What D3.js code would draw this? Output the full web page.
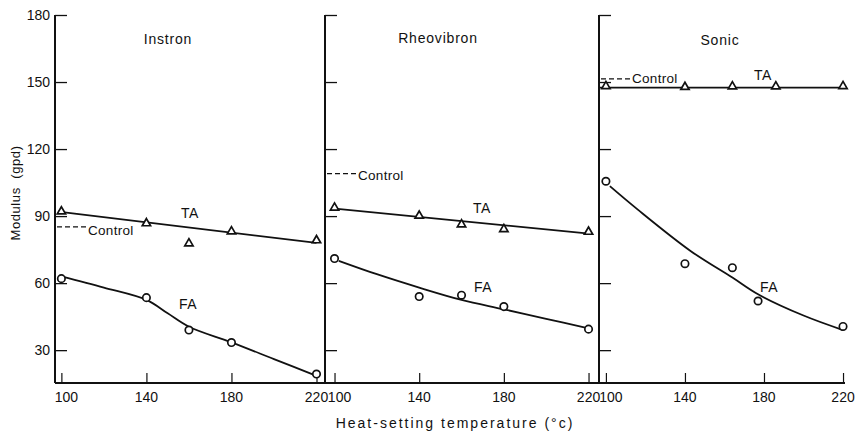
<!DOCTYPE html>
<html><head><meta charset="utf-8">
<script src="https://cdn.jsdelivr.net/npm/d3@7"></script>
<style>
html,body{margin:0;padding:0;background:#fff;}
svg{display:block;font-family:"Liberation Sans","DejaVu Sans",sans-serif;}
</style></head>
<body><svg id="chart" width="858" height="434"></svg>
<script>
// ---------- data ----------
const panelNames = ["Instron", "Rheovibron", "Sonic"];
const xTickValues = [100, 140, 180, 220];
const yTickValues = [30, 60, 90, 120, 150, 180];
const controlValues = [85.2, 109, 151.4];

// Instron
const instronTAx = [100, 140, 160, 180, 220];
const instronTA  = [91.6, 86.3, 77.3, 82.7, 78.7];
const instronFAx = [100, 140, 160, 180, 220];
const instronFA  = [62, 53.5, 39, 33.4, 19.3];
const instronTAfitX = [98.5, 220];
const instronTAfit  = [92, 78];
const instronFAfitX = [100, 120, 140, 150, 160, 180, 200, 220];
const instronFAfit  = [63, 58, 52.5, 46.5, 40.5, 33.5, 26, 18.5];

// Rheovibron
const rheoTAx = [100, 140, 160, 180, 220];
const rheoTA  = [93.3, 89.7, 85.8, 83.7, 82.5];
const rheoFAx = [100, 140, 160, 180, 220];
const rheoFA  = [71, 54, 54.6, 49.5, 39.4];
const rheoTAfitX = [99, 221.5];
const rheoTAfit  = [93.5, 82];
const rheoFAfitX = [102, 120, 140, 160, 180, 200, 220];
const rheoFAfit  = [70, 64, 58, 52.5, 48.3, 44, 39.8];

// Sonic
const sonicTAx = [100, 140, 164, 186, 220];
const sonicTA  = [147.7, 147.3, 147.6, 147.6, 147.7];
const sonicFAx = [100, 140, 164, 177, 220];
const sonicFA  = [105.6, 68.7, 66.9, 52, 40.6];
const sonicTAfitX = [97, 221];
const sonicTAfit  = [147.5, 147.5];
const sonicFAfitX = [102, 116, 143, 164, 177, 200, 220];
const sonicFAfit  = [103.4, 93, 74.3, 62.5, 55, 45.5, 39];

// ---------- layout ----------
const layout = [
  {px:[55,325], dom:[97,224],  title:[168,44], ta:[190,218], fa:[188,309], ctrlDy:8},
  {px:[325,597],dom:[95.5,224],title:[438,43], ta:[482,213], fa:[483,292], ctrlDy:6},
  {px:[599,845],dom:[96.5,221],title:[720,45], ta:[763,80],  fa:[769,292], ctrlDy:4}
];
const series = [
  {taX:instronTAx, ta:instronTA, faX:instronFAx, fa:instronFA, taFx:instronTAfitX, taF:instronTAfit, faFx:instronFAfitX, faF:instronFAfit},
  {taX:rheoTAx, ta:rheoTA, faX:rheoFAx, fa:rheoFA, taFx:rheoTAfitX, taF:rheoTAfit, faFx:rheoFAfitX, faF:rheoFAfit},
  {taX:sonicTAx, ta:sonicTA, faX:sonicFAx, fa:sonicFA, taFx:sonicTAfitX, taF:sonicTAfit, faFx:sonicFAfitX, faF:sonicFAfit}
];

const svg = d3.select("#chart");
const yBottom = 383, yTop = 15;
const y = d3.scaleLinear().domain([15.3, 180]).range([yBottom, yTop]);
const ink = "#111";
const fs = 14;

// bottom baseline across all panels
svg.append("line").attr("x1", layout[0].px[0]).attr("x2", layout[2].px[1])
  .attr("y1", yBottom).attr("y2", yBottom).attr("stroke", ink).attr("stroke-width", 2);

const tri = d3.symbol().type(d3.symbolTriangle).size(30);

panelNames.forEach((name, i) => {
  const L = layout[i], S = series[i];
  const x = d3.scaleLinear().domain(L.dom).range(L.px);
  const g = svg.append("g");

  // y axis with inward ticks
  const yAxis = d3.axisRight(y).tickValues(yTickValues).tickSize(12).tickFormat("");
  const ya = g.append("g").attr("transform", `translate(${L.px[0]},0)`).call(yAxis);
  ya.select(".domain").attr("d", `M0,${yTop}V${yBottom}`).attr("stroke", ink).attr("stroke-width", 2);
  ya.selectAll(".tick line").attr("stroke", ink).attr("stroke-width", 1.3);

  if (i === 0) {
    g.selectAll(".ylab").data(yTickValues).join("text")
      .attr("x", L.px[0] - 5).attr("y", d => y(d)).attr("dy", "0.36em")
      .attr("text-anchor", "end").attr("font-size", fs).attr("fill", ink).text(d => d);
  }

  // x axis ticks pointing up
  const xAxis = d3.axisTop(x).tickValues(xTickValues).tickSize(10).tickFormat("");
  const xa = g.append("g").attr("transform", `translate(0,${yBottom})`).call(xAxis);
  xa.select(".domain").remove();
  xa.selectAll(".tick line").attr("stroke", ink).attr("stroke-width", 1.2);
  g.selectAll(".xlab").data(xTickValues).join("text")
    .attr("x", d => x(d) + (d === 100 ? 5 : 0)).attr("y", 402)
    .attr("text-anchor", "middle").attr("font-size", fs).attr("fill", ink).text(d => d);

  // title
  g.append("text").attr("x", L.title[0]).attr("y", L.title[1]).attr("text-anchor", "middle")
    .attr("font-size", fs).attr("letter-spacing", 0.8).attr("fill", ink).text(name);

  // control
  const cy = y(controlValues[i]);
  g.append("line").attr("x1", L.px[0] + 2).attr("x2", L.px[0] + 32).attr("y1", cy).attr("y2", cy)
    .attr("stroke", ink).attr("stroke-width", 1.2).attr("stroke-dasharray", "5,3");
  g.append("text").attr("x", L.px[0] + 33).attr("y", cy + L.ctrlDy).attr("font-size", 13.5)
    .attr("letter-spacing", 0.3).attr("fill", ink).text("Control");

  // fit lines
  const straight = d3.line().x(d => x(d[0])).y(d => y(d[1]));
  const smooth = d3.line().x(d => x(d[0])).y(d => y(d[1])).curve(d3.curveCatmullRom.alpha(0.5));
  g.append("path").datum(d3.zip(S.taFx, S.taF)).attr("d", straight)
    .attr("fill", "none").attr("stroke", ink).attr("stroke-width", 1.8);
  g.append("path").datum(d3.zip(S.faFx, S.faF)).attr("d", smooth)
    .attr("fill", "none").attr("stroke", ink).attr("stroke-width", 1.8);

  // markers
  g.selectAll(".ta").data(d3.zip(S.taX, S.ta)).join("path")
    .attr("transform", d => `translate(${x(d[0])},${y(d[1]) - 1})`)
    .attr("d", tri).attr("fill", "#fff").attr("stroke", ink).attr("stroke-width", 1.7);
  g.selectAll(".fa").data(d3.zip(S.faX, S.fa)).join("circle")
    .attr("cx", d => x(d[0])).attr("cy", d => y(d[1])).attr("r", 3.7)
    .attr("fill", "#fff").attr("stroke", ink).attr("stroke-width", 1.7);

  // series labels
  g.append("text").attr("x", L.ta[0]).attr("y", L.ta[1]).attr("text-anchor", "middle")
    .attr("font-size", fs).attr("letter-spacing", 0.5).attr("fill", ink).text("TA");
  g.append("text").attr("x", L.fa[0]).attr("y", L.fa[1]).attr("text-anchor", "middle")
    .attr("font-size", fs).attr("letter-spacing", 0.5).attr("fill", ink).text("FA");
});

// axis titles
svg.append("text").attr("transform", "translate(20,193) rotate(-90)")
  .attr("text-anchor", "middle").attr("font-size", 13).attr("letter-spacing", 0.6)
  .attr("fill", ink).attr("xml:space", "preserve").text("Modulus  (gpd)");
svg.append("text").attr("x", 455).attr("y", 428).attr("text-anchor", "middle")
  .attr("font-size", 14).attr("letter-spacing", 2).attr("fill", ink)
  .text("Heat-setting temperature (°c)");
</script></body></html>
